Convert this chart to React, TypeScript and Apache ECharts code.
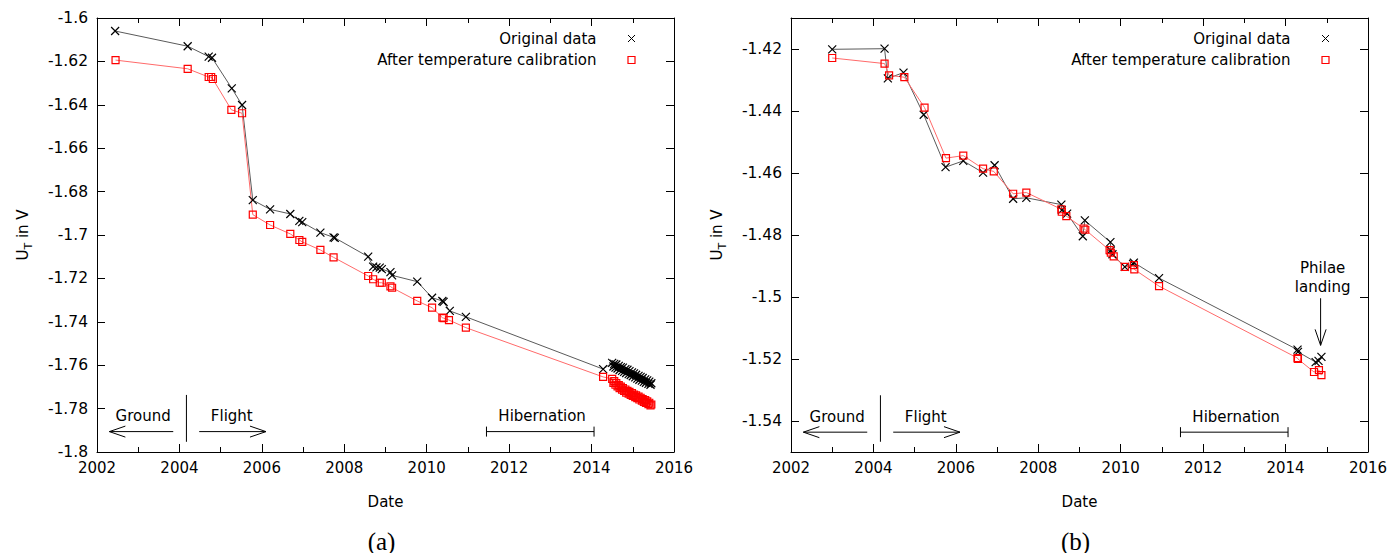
import React, { useEffect, useRef } from "react";
import * as echarts from "echarts";

// ---------- data (a) ----------
const aOrigYears = [
  2002.44, 2004.2, 2004.71, 2004.79, 2005.27, 2005.52, 2005.78, 2006.2, 2006.69, 2006.91, 2006.98,
  2007.42, 2007.74, 2007.77, 2008.58, 2008.7, 2008.78, 2008.86, 2008.91, 2009.12, 2009.16, 2009.77,
  2010.13, 2010.38, 2010.41, 2010.56, 2010.95, 2014.28,
  2014.5, 2014.53, 2014.55, 2014.58, 2014.6, 2014.63, 2014.66, 2014.68, 2014.71, 2014.74, 2014.76,
  2014.79, 2014.82, 2014.84, 2014.87, 2014.9, 2014.92, 2014.95, 2014.98, 2015.0, 2015.03, 2015.06,
  2015.08, 2015.11, 2015.14, 2015.16, 2015.19, 2015.22, 2015.24, 2015.27, 2015.3, 2015.32, 2015.35,
  2015.38, 2015.4, 2015.43, 2015.45,
];
const aOrigValues = [
  -1.606, -1.613, -1.6178, -1.6183, -1.6324, -1.6401, -1.6839, -1.6882, -1.6903, -1.6935, -1.6941,
  -1.6989, -1.7011, -1.7013, -1.71, -1.7146, -1.7149, -1.715, -1.7157, -1.7171, -1.7186, -1.7215,
  -1.7289, -1.7304, -1.7308, -1.735, -1.7377, -1.7618,
  -1.7589, -1.7606, -1.7594, -1.7611, -1.7597, -1.7615, -1.7603, -1.7622, -1.7609, -1.7626, -1.7611,
  -1.7631, -1.7618, -1.7636, -1.7621, -1.7641, -1.7627, -1.7645, -1.7633, -1.7651, -1.7638, -1.7656,
  -1.7644, -1.7662, -1.7649, -1.7667, -1.7654, -1.7671, -1.7659, -1.7677, -1.7665, -1.7681, -1.767,
  -1.7686, -1.7676, -1.769, -1.7683,
];
const aCalYears = [
  2002.45, 2004.2, 2004.71, 2004.77, 2004.81, 2005.26, 2005.52, 2005.78, 2006.2, 2006.69, 2006.91,
  2006.98, 2007.42, 2007.74, 2008.58, 2008.7, 2008.86, 2008.91, 2009.12, 2009.16, 2009.77, 2010.13,
  2010.38, 2010.41, 2010.54, 2010.95, 2014.28,
  2014.5, 2014.53, 2014.55, 2014.58, 2014.6, 2014.63, 2014.66, 2014.68, 2014.71, 2014.74, 2014.76,
  2014.79, 2014.82, 2014.84, 2014.87, 2014.9, 2014.92, 2014.95, 2014.98, 2015.0, 2015.03, 2015.06,
  2015.08, 2015.11, 2015.14, 2015.16, 2015.19, 2015.22, 2015.24, 2015.27, 2015.3, 2015.32, 2015.35,
  2015.38, 2015.4, 2015.43, 2015.45,
];
const aCalValues = [
  -1.6194, -1.6234, -1.6272, -1.6272, -1.6281, -1.6423, -1.6439, -1.6906, -1.6954, -1.6995, -1.7023,
  -1.7032, -1.7069, -1.7103, -1.7189, -1.7204, -1.722, -1.722, -1.7237, -1.7243, -1.7304, -1.7335,
  -1.7381, -1.7383, -1.7392, -1.7427, -1.7654,
  -1.7663, -1.7681, -1.7673, -1.769, -1.7682, -1.7698, -1.7692, -1.7706, -1.7699, -1.7713, -1.7705,
  -1.7719, -1.7712, -1.7726, -1.7718, -1.7731, -1.7723, -1.7737, -1.7729, -1.7741, -1.7735, -1.7747,
  -1.7739, -1.7752, -1.7745, -1.7758, -1.775, -1.7763, -1.7756, -1.7769, -1.7761, -1.7774, -1.7767,
  -1.7779, -1.7773, -1.7785, -1.7781,
];

// ---------- data (b) ----------
const bOrigYears = [
  2003.0, 2004.27, 2004.35, 2004.73, 2005.22, 2005.75, 2006.18, 2006.66, 2006.94, 2007.39, 2007.71,
  2008.56, 2008.57, 2008.7, 2009.08, 2009.13, 2009.75, 2009.76, 2009.8, 2010.1, 2010.3, 2010.32,
  2010.93, 2014.29, 2014.3, 2014.73, 2014.8, 2014.87,
];
const bOrigValues = [
  -1.4201, -1.4199, -1.4295, -1.4276, -1.4412, -1.4581, -1.4561, -1.4599, -1.4575, -1.4683, -1.468,
  -1.4702, -1.472, -1.4731, -1.4804, -1.4753, -1.4823, -1.485, -1.4862, -1.4903, -1.4893, -1.4889,
  -1.4939, -1.517, -1.5177, -1.521, -1.5206, -1.5193,
];
const bCalYears = [
  2003.0, 2004.27, 2004.38, 2004.75, 2005.24, 2005.76, 2006.18, 2006.66, 2006.92, 2007.39, 2007.71,
  2008.56, 2008.57, 2008.68, 2009.1, 2009.14, 2009.73, 2009.76, 2009.83, 2010.1, 2010.32, 2010.33,
  2010.93, 2014.29, 2014.3, 2014.69, 2014.81, 2014.87,
];
const bCalValues = [
  -1.4229, -1.4247, -1.4285, -1.4291, -1.4389, -1.4552, -1.4544, -1.4586, -1.4595, -1.4667, -1.4663,
  -1.4717, -1.4725, -1.4739, -1.4779, -1.4783, -1.4849, -1.4857, -1.4869, -1.4903, -1.4897, -1.4911,
  -1.4965, -1.5197, -1.52, -1.5242, -1.5236, -1.5252,
];

// ---------- axes ----------
const xMin = 2002;
const xMax = 2016;
const xInterval = 2;
const aYMin = -1.8;
const aYMax = -1.6;
const aYInterval = 0.02;
const bYMin = -1.55;
const bYMax = -1.41;
const bYSplit = 7;

// ---------- texts ----------
const legendNames = ["Original data", "After temperature calibration"];
const panelLabels = ["(a)", "(b)"];
const xName = "Date";

// ---------- annotations (data space) ----------
const groundArrowYears = [2003.85, 2002.3];
const separatorYear = 2004.17;
const flightArrowYears = [2004.48, 2006.1];
const hibernationYears = [2011.45, 2014.06];
const annotTextYears = [2003.12, 2005.27, 2012.8];
const annotTexts = ["Ground", "Flight", "Hibernation"];
// [text, arrow, sepTop, sepBottom]
const aAnnotV = [-1.7833, -1.7906, -1.7737, -1.7953];
const bAnnotV = [-1.5386, -1.5436, -1.5317, -1.5467];
const philaeYear = 2014.85;
const philaeArrowV = [-1.5004, -1.5156];
const philaeTextV = [-1.4907, -1.4969];
const philaeLines = ["Philae", "landing"];

const FONT = "DejaVu Sans";
const GRIDS = [
  { left: 97, top: 18, width: 577, height: 434 },
  { left: 791, top: 18, width: 577, height: 434 },
];

const CROSS = "path://M0,0L10,10M10,0L0,10";

function xAxes(gridIndex: number) {
  const common = {
    type: "value",
    gridIndex,
    min: xMin,
    max: xMax,
    interval: xInterval,
    axisLine: { show: true, lineStyle: { color: "#000", width: 1 } },
    axisTick: { show: true, inside: true, length: 8, lineStyle: { color: "#000" } },
    minorTick: { show: true, splitNumber: 2, length: 5, lineStyle: { color: "#000" } },
    splitLine: { show: false },
    minorSplitLine: { show: false },
  };
  return [
    {
      ...common,
      position: "bottom",
      name: xName,
      nameLocation: "middle",
      nameGap: 42,
      nameTextStyle: { fontFamily: FONT, fontSize: 15, color: "#000" },
      axisLabel: {
        fontFamily: FONT,
        fontSize: 15,
        color: "#000",
        margin: 8,
        formatter: (v: number) => String(v),
      },
    },
    { ...common, position: "top", axisLabel: { show: false } },
  ];
}

function yAxes(gridIndex: number, which: "a" | "b") {
  const range =
    which === "a"
      ? { min: aYMin, max: aYMax, interval: aYInterval }
      : { min: bYMin, max: bYMax, splitNumber: bYSplit, minInterval: 0.02, maxInterval: 0.02 };
  const common = {
    type: "value",
    gridIndex,
    ...range,
    axisLine: { show: true, lineStyle: { color: "#000", width: 1 } },
    axisTick: { show: true, inside: true, length: 8, lineStyle: { color: "#000" } },
    splitLine: { show: false },
  };
  return [
    {
      ...common,
      position: "left",
      name: "{a|U}{b|T}{a| in V}",
      nameLocation: "middle",
      nameGap: 63,
      nameRotate: 90,
      nameTextStyle: {
        fontFamily: FONT,
        fontSize: 15,
        color: "#000",
        rich: {
          a: { fontFamily: FONT, fontSize: 15, color: "#000", lineHeight: 22, verticalAlign: "middle" },
          b: { fontFamily: FONT, fontSize: 11, color: "#000", lineHeight: 11, verticalAlign: "bottom" },
        },
      },
      axisLabel: {
        fontFamily: FONT,
        fontSize: 15.5,
        color: "#000",
        margin: 9,
        showMinLabel: which === "a",
        showMaxLabel: which === "a",
        formatter: (v: number) => String(+v.toFixed(2)),
      },
    },
    { ...common, position: "right", axisLabel: { show: false }, name: "" },
  ];
}

function pairs(xs: number[], ys: number[]) {
  return xs.map((x, i) => [x, ys[i]]);
}

function seriesFor(axisBase: number, origX: number[], origY: number[], calX: number[], calY: number[]) {
  return [
    {
      type: "line",
      name: legendNames[0],
      xAxisIndex: axisBase,
      yAxisIndex: axisBase,
      data: pairs(origX, origY),
      symbol: CROSS,
      symbolSize: 8,
      itemStyle: { color: "rgba(0,0,0,0)", borderColor: "#000", borderWidth: 1.2 },
      lineStyle: { color: "#5a5a5a", width: 1 },
      silent: true,
    },
    {
      type: "line",
      name: legendNames[1],
      xAxisIndex: axisBase,
      yAxisIndex: axisBase,
      data: pairs(calX, calY),
      symbol: "rect",
      symbolSize: 7,
      itemStyle: { color: "rgba(0,0,0,0)", borderColor: "#ff0000", borderWidth: 1.2 },
      lineStyle: { color: "#ff6a6a", width: 1 },
      silent: true,
    },
  ];
}

export default function App() {
  const ref = useRef<HTMLDivElement>(null);
  useEffect(() => {
    if (!ref.current) return;
    const chart = echarts.init(ref.current, undefined, { renderer: "svg" });
    chart.setOption({
      animation: false,
      backgroundColor: "#fff",
      grid: GRIDS.map((g) => ({ ...g, containLabel: false })),
      xAxis: [...xAxes(0), ...xAxes(1)],
      yAxis: [...yAxes(0, "a"), ...yAxes(1, "b")],
      series: [
        ...seriesFor(0, aOrigYears, aOrigValues, aCalYears, aCalValues),
        ...seriesFor(2, bOrigYears, bOrigValues, bCalYears, bCalValues),
      ],
    });

    const els: any[] = [];
    const textStyle = (text: string, x: number, y: number, size = 15, family = FONT, align = "center") => ({
      type: "text",
      x,
      y,
      silent: true,
      style: { text, fontFamily: family, fontSize: size, fill: "#000", align, verticalAlign: "middle" },
    });
    const line = (x1: number, y1: number, x2: number, y2: number) => ({
      type: "line",
      silent: true,
      shape: { x1, y1, x2, y2 },
      style: { stroke: "#000", lineWidth: 1 },
    });
    const head = (tx: number, ty: number, dx: number, dy: number) => {
      const L = 16, W = 5.5;
      const bx = tx - dx * L, by = ty - dy * L;
      const px = -dy * W, py = dx * W;
      return {
        type: "polyline",
        silent: true,
        shape: { points: [[bx + px, by + py], [tx, ty], [bx - px, by - py]] },
        style: { stroke: "#000", lineWidth: 1, fill: null },
      };
    };

    [0, 1].forEach((gi) => {
      const V = gi === 0 ? aAnnotV : bAnnotV;
      const P = (x: number, y: number) => chart.convertToPixel({ gridIndex: gi } as any, [x, y]) as number[];
      annotTexts.forEach((t, i) => {
        const p = P(annotTextYears[i], V[0]);
        els.push(textStyle(t, p[0], p[1]));
      });
      const g0 = P(groundArrowYears[0], V[1]);
      const g1 = P(groundArrowYears[1], V[1]);
      els.push(line(g0[0], g0[1], g1[0], g1[1]));
      els.push(head(g1[0], g1[1], -1, 0));
      const s0 = P(separatorYear, V[2]);
      const s1 = P(separatorYear, V[3]);
      els.push(line(s0[0], s0[1], s1[0], s1[1]));
      const f0 = P(flightArrowYears[0], V[1]);
      const f1 = P(flightArrowYears[1], V[1]);
      els.push(line(f0[0], f0[1], f1[0], f1[1]));
      els.push(head(f1[0], f1[1], 1, 0));
      const h0 = P(hibernationYears[0], V[1]);
      const h1 = P(hibernationYears[1], V[1]);
      els.push(line(h0[0], h0[1], h1[0], h1[1]));
      els.push(line(h0[0], h0[1] - 5, h0[0], h0[1] + 5));
      els.push(line(h1[0], h1[1] - 5, h1[0], h1[1] + 5));

      // legend
      const g = GRIDS[gi];
      const right = g.left + g.width;
      const symX = right - 42.5;
      const txtX = right - 77.5;
      const r1 = g.top + 20.5;
      const r2 = g.top + 42;
      els.push(textStyle(legendNames[0], txtX, r1, 15, FONT, "right"));
      els.push(textStyle(legendNames[1], txtX, r2, 15, FONT, "right"));
      els.push(line(symX - 3.5, r1 - 3.5, symX + 3.5, r1 + 3.5));
      els.push(line(symX - 3.5, r1 + 3.5, symX + 3.5, r1 - 3.5));
      els.push({
        type: "rect",
        silent: true,
        shape: { x: symX - 3.5, y: r2 - 3.5, width: 7, height: 7 },
        style: { stroke: "#ff0000", fill: null, lineWidth: 1.2 },
      });

      // panel label
      els.push(textStyle(panelLabels[gi], g.left + g.width / 2 - 4, 541, 25, "Liberation Serif"));

      if (gi === 1) {
        const a0 = P(philaeYear, philaeArrowV[0]);
        const a1 = P(philaeYear, philaeArrowV[1]);
        els.push(line(a0[0], a0[1], a1[0], a1[1]));
        els.push(head(a1[0], a1[1], 0, 1));
        philaeLines.forEach((t, i) => {
          const p = P(philaeYear + 0.05, philaeTextV[i]);
          els.push(textStyle(t, p[0], p[1]));
        });
      }
    });
    chart.setOption({ graphic: { elements: els } });
    return () => chart.dispose();
  }, []);
  return (
    <div
      ref={ref}
      style={{ position: "absolute", left: 0, top: 0, width: 1392, height: 553, background: "#fff" }}
    />
  );
}
